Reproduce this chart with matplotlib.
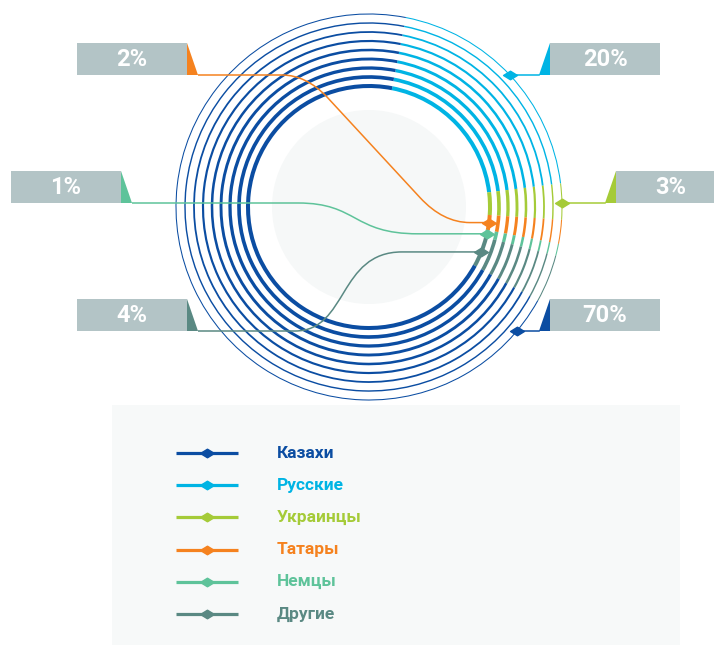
import matplotlib
matplotlib.use('Agg')
import matplotlib.pyplot as plt
from matplotlib.patches import Arc, Rectangle, Polygon, Circle, PathPatch
from matplotlib.path import Path
import numpy as np

# ---------------- data ----------------
categories = ['Казахи', 'Русские', 'Украинцы', 'Татары', 'Немцы', 'Другие']
values = [70, 20, 3, 2, 1, 4]
pct_labels = ['70%', '20%', '3%', '2%', '1%', '4%']
colors = ['#0B4DA2', '#00B4E4', '#A5CB38', '#F5821F', '#5EC39A', '#5A8983']
ring_order = ['Русские', 'Украинцы', 'Татары', 'Немцы', 'Другие', 'Казахи']  # clockwise

# ---------------- layout (pixels, y from top) ----------------
W, H = 714, 645
CX, CY = 369, 207
R_OUT, R_IN, N_RINGS = 193, 121, 9
START = 79.0  # degrees (math convention), segments run clockwise
BOX_GRAY = '#B3C4C6'

def Y(y):
    return H - y

fig = plt.figure(figsize=(W / 100, H / 100), dpi=100)
ax = fig.add_axes([0, 0, 1, 1])
ax.set_xlim(0, W)
ax.set_ylim(0, H)
ax.set_aspect('equal')
ax.axis('off')

# central soft circle
ax.add_patch(Circle((CX, Y(CY)), 97, color='#F6F8F8', zorder=0, lw=0))

# segment angles
col = dict(zip(categories, colors))
val = dict(zip(categories, values))
seg = {}
a = START
for c in ring_order:
    span = val[c] / sum(values) * 360
    seg[c] = (a - span, a)
    a -= span

radii = np.linspace(R_OUT, R_IN, N_RINGS)
widths = np.linspace(0.75, 2.9, N_RINGS)
for r, lw in zip(radii, widths):
    for c in ring_order:
        t1, t2 = seg[c]
        ax.add_patch(Arc((CX, Y(CY)), 2 * r, 2 * r, theta1=t1, theta2=t2,
                         color=col[c], lw=lw, zorder=2))

diamond = Path([(-1, 0), (0, 0.62), (1, 0), (0, -0.62), (-1, 0)],
               [Path.MOVETO, Path.LINETO, Path.LINETO, Path.LINETO, Path.CLOSEPOLY])

def box(x0, y0, w, h, text, color, side):
    ax.add_patch(Rectangle((x0, Y(y0 + h)), w, h, color=BOX_GRAY, lw=0, zorder=3))
    if side == 'left':  # triangle on right side of box
        tri = [(x0 + w, Y(y0)), (x0 + w, Y(y0 + h)), (x0 + w + 11, Y(y0 + h))]
    else:
        tri = [(x0, Y(y0)), (x0, Y(y0 + h)), (x0 - 11, Y(y0 + h))]
    ax.add_patch(Polygon(tri, closed=True, color=color, lw=0, zorder=3))
    ax.text(x0 + w / 2, Y(y0 + h / 2), text, color='white', fontsize=17,
            fontweight='bold', family='Roboto', ha='center', va='center', zorder=4)

def mid_point(c, r):
    t1, t2 = seg[c]
    m = np.deg2rad((t1 + t2) / 2)
    return CX + r * np.cos(m), CY - r * np.sin(m)

lab = dict(zip(categories, pct_labels))

# ---- right-side labels ----
right = [('Русские', 43, 75), ('Украинцы', 171, 203), ('Казахи', 299, 331)]
for c, top, ly in right:
    bx = 550 if c != 'Украинцы' else 616
    box(bx, top, 110, ly - top, lab[c], col[c], 'right')
    xd = CX + np.sqrt(R_OUT ** 2 - (ly - CY) ** 2)
    ax.plot([bx - 11, xd], [Y(ly), Y(ly)], color=col[c], lw=1.1, zorder=5)
    ax.plot([xd], [Y(ly)], marker=diamond, ms=10, color=col[c], zorder=6)

# ---- left-side labels ----
# Tatars
c = 'Татары'
box(77, 43, 110, 32, lab[c], col[c], 'left')
xd, yd = mid_point(c, R_IN)
verts = [(198, 75), (282, 75), (306, 75), (327, 97), (420, yd - 25),
         (443, yd), (470, yd), (xd, yd)]
codes = [Path.MOVETO, Path.LINETO, Path.CURVE3, Path.CURVE3, Path.LINETO,
         Path.CURVE3, Path.CURVE3, Path.LINETO]
ax.add_patch(PathPatch(Path([(x, Y(y)) for x, y in verts], codes), fill=False,
                       edgecolor=col[c], lw=1.1, zorder=5))
ax.plot([xd], [Y(yd)], marker=diamond, ms=10, color=col[c], zorder=6)

# Germans
c = 'Немцы'
box(11, 171, 110, 32, lab[c], col[c], 'left')
xd, yd = mid_point(c, R_IN)
verts = [(132, 203), (298, 203), (358, 203), (352, yd), (418, yd), (xd, yd)]
codes = [Path.MOVETO, Path.LINETO, Path.CURVE4, Path.CURVE4, Path.CURVE4, Path.LINETO]
ax.add_patch(PathPatch(Path([(x, Y(y)) for x, y in verts], codes), fill=False,
                       edgecolor=col[c], lw=1.1, zorder=5))
ax.plot([xd], [Y(yd)], marker=diamond, ms=10, color=col[c], zorder=6)

# Others
c = 'Другие'
box(77, 299, 110, 32, lab[c], col[c], 'left')
xd, yd = mid_point(c, R_IN)
verts = [(198, 331), (295, 331), (348, 331), (338, yd), (402, yd), (xd, yd)]
codes = [Path.MOVETO, Path.LINETO, Path.CURVE4, Path.CURVE4, Path.CURVE4, Path.LINETO]
ax.add_patch(PathPatch(Path([(x, Y(y)) for x, y in verts], codes), fill=False,
                       edgecolor=col[c], lw=1.1, zorder=5))
ax.plot([xd], [Y(yd)], marker=diamond, ms=10, color=col[c], zorder=6)

# ---------------- legend ----------------
ax.add_patch(Rectangle((112, Y(645)), 568, 240, color='#F7F9F9', lw=0, zorder=0))
for i, (c, clr) in enumerate(zip(categories, colors)):
    yy = 453 + i * 32.2
    ax.plot([176, 238], [Y(yy), Y(yy)], color=clr, lw=2.3, zorder=3,
            solid_capstyle='butt')
    ax.plot([207], [Y(yy)], marker=diamond, ms=10, color=clr, zorder=4)
    ax.text(277, Y(yy), c, color=clr, fontsize=12.5, fontweight='bold',
            family='Roboto', ha='left', va='center', zorder=4)

fig.savefig('out.png', dpi=100)
